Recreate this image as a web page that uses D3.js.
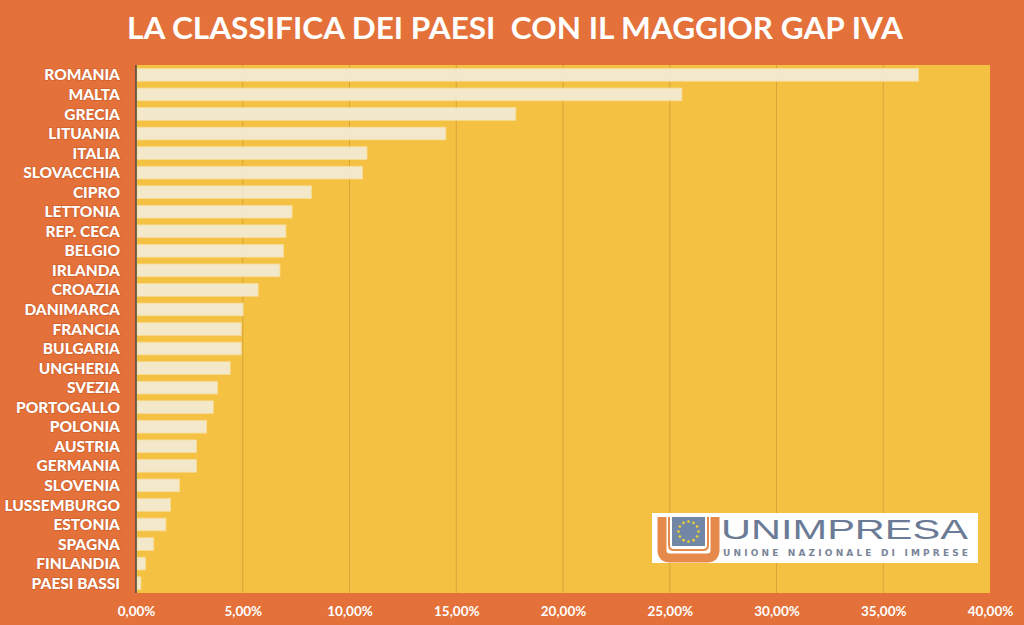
<!DOCTYPE html>
<html>
<head>
<meta charset="utf-8">
<script src="https://cdn.jsdelivr.net/npm/d3@7/dist/d3.min.js"></script>
<style>
  html, body { margin: 0; padding: 0; background: #E4713A; }
  svg { display: block; }
</style>
</head>
<body>
<svg id="chart" width="1024" height="625"></svg>
<script>
const titleText = "LA CLASSIFICA DEI PAESI  CON IL MAGGIOR GAP IVA";
const countries = ["ROMANIA","MALTA","GRECIA","LITUANIA","ITALIA","SLOVACCHIA","CIPRO","LETTONIA","REP. CECA","BELGIO","IRLANDA","CROAZIA","DANIMARCA","FRANCIA","BULGARIA","UNGHERIA","SVEZIA","PORTOGALLO","POLONIA","AUSTRIA","GERMANIA","SLOVENIA","LUSSEMBURGO","ESTONIA","SPAGNA","FINLANDIA","PAESI BASSI"];
const values = [36.65, 25.57, 17.79, 14.51, 10.82, 10.61, 8.22, 7.31, 7.02, 6.91, 6.74, 5.72, 5.02, 4.93, 4.93, 4.41, 3.82, 3.62, 3.31, 2.84, 2.84, 2.04, 1.62, 1.40, 0.83, 0.44, 0.23];
const xTicks = [0, 5, 10, 15, 20, 25, 30, 35, 40];

const svg = d3.select("#chart");
const W = 1024, H = 625;
const plot = { left: 136, right: 990, top: 65, bottom: 593 };

svg.append("rect").attr("width", W).attr("height", H).attr("fill", "#E4713A");

// Title
svg.append("text")
  .attr("x", 515).attr("y", 39)
  .attr("text-anchor", "middle")
  .attr("font-family", "Lato, 'Open Sans', sans-serif")
  .attr("font-weight", 700)
  .attr("font-size", 30)
  .attr("fill", "#ffffff")
  .attr("textLength", 776)
  .attr("lengthAdjust", "spacingAndGlyphs")
  .attr("xml:space", "preserve")
  .style("white-space", "pre")
  .text(titleText);

const x = d3.scaleLinear().domain([0, 40]).range([plot.left, plot.right]);
const y = d3.scaleBand().domain(countries).range([plot.top, plot.bottom]).paddingInner(0.35).paddingOuter(0.18);

// plot background
svg.append("rect")
  .attr("x", plot.left).attr("y", plot.top)
  .attr("width", plot.right - plot.left).attr("height", plot.bottom - plot.top)
  .attr("fill", "#F5C143");

// gridlines
svg.append("g").selectAll("line")
  .data(xTicks.filter(t => t > 0 && t < 40))
  .join("line")
  .attr("x1", d => x(d)).attr("x2", d => x(d))
  .attr("y1", plot.top).attr("y2", plot.bottom)
  .attr("stroke", "#C89A35").attr("stroke-width", 1).attr("opacity", 0.7);

// bars
svg.append("g").selectAll("rect")
  .data(countries)
  .join("rect")
  .attr("x", x(0) + 1)
  .attr("y", d => y(d))
  .attr("width", (d, i) => x(values[i]) - x(0) - 1)
  .attr("height", y.bandwidth())
  .attr("fill", "#F3EBD5")
  .attr("fill-opacity", 0.93)
  .attr("stroke", "#F7DC95")
  .attr("stroke-width", 0.8);

// left axis line
svg.append("line")
  .attr("x1", plot.left).attr("x2", plot.left)
  .attr("y1", plot.top).attr("y2", plot.bottom)
  .attr("stroke", "#4a4a4a").attr("stroke-width", 1.5);

// category labels
const yAxis = d3.axisLeft(y).tickSize(0).tickPadding(16);
const yg = svg.append("g").attr("transform", `translate(${plot.left},0)`).call(yAxis);
yg.select(".domain").remove();
yg.selectAll("text")
  .attr("font-family", "Lato, 'Open Sans', sans-serif")
  .attr("font-weight", 900)
  .attr("font-size", 15.5)
  .attr("fill", "#ffffff")
  .attr("stroke", "rgba(170,70,20,0.35)")
  .attr("stroke-width", 1.5)
  .attr("paint-order", "stroke")
  .attr("dy", "0.36em");

// x axis labels
const fmt = d => d3.format(".2f")(d).replace(".", ",") + "%";
const xAxis = d3.axisBottom(x).tickValues(xTicks).tickFormat(fmt).tickSize(0).tickPadding(13);
const xg = svg.append("g").attr("transform", `translate(0,${plot.bottom})`).call(xAxis);
xg.select(".domain").remove();
xg.selectAll("text")
  .attr("font-family", "Lato, 'Open Sans', sans-serif")
  .attr("font-weight", 700)
  .attr("font-size", 13.5)
  .attr("fill", "#ffffff");

// Logo
const logo = svg.append("g");
logo.append("rect").attr("x", 652).attr("y", 513).attr("width", 326).attr("height", 50).attr("fill", "#ffffff");
// blue square
logo.append("rect").attr("x", 672).attr("y", 517).attr("width", 33).attr("height", 29).attr("fill", "#7286A6");
// orange U
logo.append("path")
  .attr("d", "M662,517 L662,550 Q662,558 670,558 L707,558 Q715,558 715,550 L715,517")
  .attr("fill", "none").attr("stroke", "#E58A4A").attr("stroke-width", 9);
logo.append("path")
  .attr("d", "M669,517 L669,545 Q669,550 674,550 L703,550 Q708,550 708,545 L708,517")
  .attr("fill", "none").attr("stroke", "#E58A4A").attr("stroke-width", 2);
// stars
const starAngles = d3.range(12).map(i => i * Math.PI * 2 / 12);
logo.append("g").selectAll("circle").data(starAngles).join("circle")
  .attr("cx", a => 688.5 + 10 * Math.cos(a))
  .attr("cy", a => 531.5 + 10 * Math.sin(a))
  .attr("r", 1.3).attr("fill", "#F2D230");
logo.append("text")
  .attr("x", 721).attr("y", 538.5)
  .attr("font-family", "'Liberation Sans', Arial, sans-serif")
  .attr("font-weight", 400)
  .attr("font-size", 28)
  .attr("fill", "#6B7B95")
  .attr("textLength", 247)
  .attr("lengthAdjust", "spacingAndGlyphs")
  .text("UNIMPRESA");
logo.append("text")
  .attr("x", 723).attr("y", 555.5)
  .attr("font-family", "'DejaVu Sans', sans-serif")
  .attr("font-weight", 700)
  .attr("font-size", 9)
  .attr("fill", "#7A8599")
  .attr("textLength", 245)
  .attr("lengthAdjust", "spacing")
  .text("UNIONE NAZIONALE DI IMPRESE");
</script>
</body>
</html>
